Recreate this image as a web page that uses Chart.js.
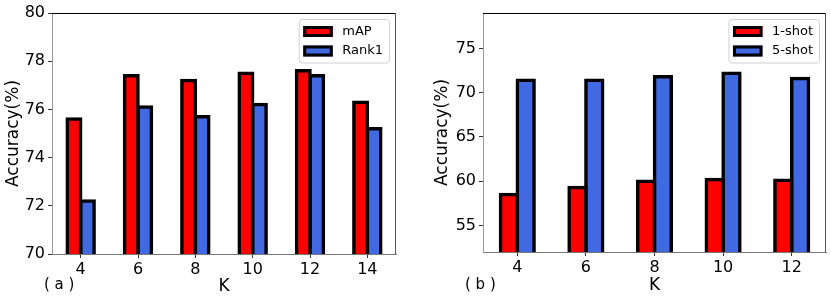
<!DOCTYPE html>
<html>
<head>
<meta charset="utf-8">
<script src="https://cdn.jsdelivr.net/npm/chart.js@4.4.0/dist/chart.umd.min.js"></script>
<style>
body { margin: 0; background: #fff; width: 831px; height: 301px; position: relative; overflow: hidden; }
.panel { position: absolute; top: 0; height: 301px; }
.tag { position: absolute; font: 15px "DejaVu Sans", sans-serif; color: #000; line-height: 1; white-space: pre; }
</style>
</head>
<body>
<div class="panel" style="left:0;width:415px"><canvas id="chartA" width="415" height="301"></canvas></div>
<div class="panel" style="left:415px;width:416px"><canvas id="chartB" width="416" height="301"></canvas></div>
<div class="tag" style="left:44px;top:277px">( a )</div>
<div class="tag" style="left:465px;top:277px">( b )</div>
<script>
// (a) mAP / Rank1 against K
const kA = ['4', '6', '8', '10', '12', '14'];
const mapA = [75.6, 77.4, 77.2, 77.5, 77.6, 76.3];
const rank1A = [72.2, 76.1, 75.7, 76.2, 77.4, 75.2];
const yTicksA = [70, 72, 74, 76, 78, 80];

// (b) 1-shot / 5-shot against K
const kB = ['4', '6', '8', '10', '12'];
const shot1B = [58.5, 59.3, 60.0, 60.2, 60.1];
const shot5B = [71.4, 71.4, 71.8, 72.2, 71.6];
const yTicksB = [55, 60, 65, 70, 75];

const RED = '#ff0000';
const BLUE = '#4169e1';
const FONT = '"DejaVu Sans", sans-serif';

// top and right spines
const frameLines = {
  id: 'frameLines',
  afterDraw(chart) {
    const ctx = chart.ctx, a = chart.chartArea;
    ctx.save();
    ctx.lineWidth = 1;
    ctx.strokeStyle = '#000';
    ctx.beginPath();
    ctx.moveTo(a.left, a.top + 0.5);
    ctx.lineTo(a.right, a.top + 0.5);
    ctx.stroke();
    ctx.strokeStyle = '#555';
    ctx.beginPath();
    ctx.moveTo(a.right - 0.5, a.top);
    ctx.lineTo(a.right - 0.5, a.bottom);
    ctx.stroke();
    ctx.restore();
  }
};

// matplotlib style legend box in the upper right corner
const boxLegend = {
  id: 'boxLegend',
  afterDraw(chart) {
    const ctx = chart.ctx, a = chart.chartArea;
    const sets = chart.data.datasets;
    ctx.save();
    ctx.font = '13px ' + FONT;
    let textW = 0;
    sets.forEach(d => { textW = Math.max(textW, ctx.measureText(d.label).width); });
    const w = 43 + textW + 6.5;
    const rowH = 19.5;
    const h = 24 + rowH * (sets.length - 1);
    const x0 = a.right - 6.5 - w;
    const y0 = a.top + 6.5;

    // frame
    const r = 3;
    ctx.beginPath();
    ctx.moveTo(x0 + r, y0);
    ctx.arcTo(x0 + w, y0, x0 + w, y0 + h, r);
    ctx.arcTo(x0 + w, y0 + h, x0, y0 + h, r);
    ctx.arcTo(x0, y0 + h, x0, y0, r);
    ctx.arcTo(x0, y0, x0 + w, y0, r);
    ctx.closePath();
    ctx.fillStyle = 'rgba(255,255,255,0.8)';
    ctx.fill();
    ctx.lineWidth = 1;
    ctx.strokeStyle = '#d0d0d0';
    ctx.stroke();

    sets.forEach((d, i) => {
      const cy = y0 + 12 + i * rowH;
      ctx.fillStyle = d.backgroundColor;
      ctx.fillRect(x0 + 4, cy - 5.5, 29.5, 11);
      ctx.lineWidth = 3;
      ctx.strokeStyle = '#000';
      ctx.strokeRect(x0 + 5.5, cy - 4, 26.5, 8);
      ctx.fillStyle = '#000';
      ctx.textBaseline = 'middle';
      ctx.textAlign = 'left';
      ctx.fillText(d.label, x0 + 43, cy);
    });
    ctx.restore();
  }
};

function makeChart(id, labels, sets, yMin, yMax, yTicks, g) {
  return new Chart(document.getElementById(id), {
    type: 'bar',
    data: { labels: labels, datasets: sets },
    options: {
      responsive: false,
      animation: false,
      events: [],
      layout: { padding: { top: 13, right: g.padRight, left: 0, bottom: 0 } },
      plugins: { legend: { display: false }, tooltip: { enabled: false } },
      datasets: {
        bar: {
          barPercentage: 1,
          categoryPercentage: g.catPct,
          borderColor: '#000',
          borderWidth: 3.5,
          borderSkipped: 'start',
          // edge straddles the bar outline like a matplotlib patch
          inflateAmount: 1.75
        }
      },
      scales: {
        x: {
          offset: true,
          grid: { offset: false, drawOnChartArea: false, drawTicks: true, tickLength: 4, color: '#333' },
          border: { color: '#777', width: 1 },
          ticks: { color: '#000', font: { family: FONT, size: 16 }, padding: 2, maxRotation: 0, autoSkip: false },
          title: { display: true, text: 'K', color: '#000', font: { family: FONT, size: 17 }, padding: { top: 0, bottom: g.kPad } },
          afterFit: s => { s.height = g.xHeight; }
        },
        y: {
          min: yMin,
          max: yMax,
          afterBuildTicks: s => { s.ticks = yTicks.map(v => ({ value: v })); },
          grid: { drawOnChartArea: false, drawTicks: true, tickLength: 4, color: '#333' },
          border: { color: '#999', width: 1 },
          ticks: { color: '#000', font: { family: FONT, size: 16 }, padding: 3 },
          title: { display: true, text: 'Accuracy(%)', color: '#000', font: { family: FONT, size: 17 }, padding: { top: g.accPad, bottom: 0 } },
          afterFit: s => { s.width = g.yWidth; }
        }
      }
    },
    plugins: [frameLines, boxLegend]
  });
}

makeChart('chartA', kA, [
  { label: 'mAP', data: mapA, backgroundColor: RED },
  { label: 'Rank1', data: rank1A, backgroundColor: BLUE }
], 70, 80, yTicksA, { padRight: 19, yWidth: 52, xHeight: 47, catPct: 0.47, kPad: 4, accPad: 3 });

makeChart('chartB', kB, [
  { label: '1-shot', data: shot1B, backgroundColor: RED },
  { label: '5-shot', data: shot5B, backgroundColor: BLUE }
], 52, 79, yTicksB, { padRight: 5, yWidth: 68, xHeight: 49, catPct: 0.49, kPad: 5, accPad: 17 });
</script>
</body>
</html>
